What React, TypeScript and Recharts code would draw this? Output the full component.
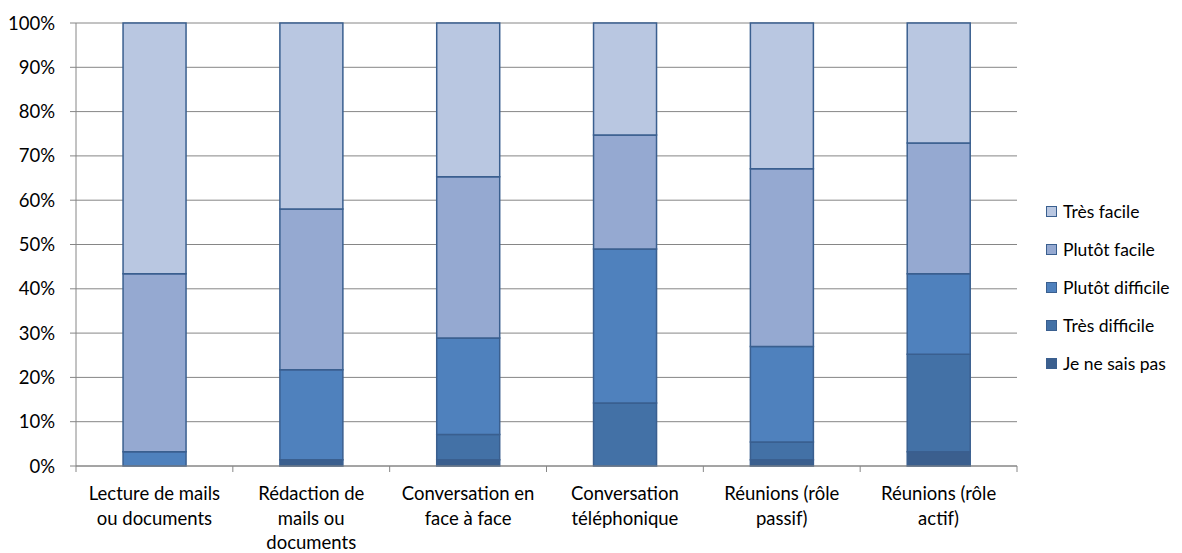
import React from 'react';
import { BarChart, Bar, XAxis, YAxis, CartesianGrid } from 'recharts';

const categories = [
  'Lecture de mails ou documents',
  'Rédaction de mails ou documents',
  'Conversation en face à face',
  'Conversation téléphonique',
  'Réunions (rôle passif)',
  'Réunions (rôle actif)',
];

// how each category label breaks on the axis
const tickLines = [
  ['Lecture de mails', 'ou documents'],
  ['Rédaction de', 'mails ou', 'documents'],
  ['Conversation en', 'face à face'],
  ['Conversation', 'téléphonique'],
  ['Réunions (rôle', 'passif)'],
  ['Réunions (rôle', 'actif)'],
];

// percent of answers, bottom of the stack first
const jeNeSaisPas = [0, 1.4, 1.4, 0, 1.4, 3.2];
const tresDifficile = [0, 0, 5.7, 14.2, 4.0, 22.0];
const plutotDifficile = [3.2, 20.3, 21.8, 34.8, 21.6, 18.2];
const plutotFacile = [40.2, 36.3, 36.4, 25.7, 40.1, 29.5];
const tresFacile = [56.6, 42.0, 34.7, 25.3, 32.9, 27.1];

const yTicks = [0, 10, 20, 30, 40, 50, 60, 70, 80, 90, 100];

const series = [
  { key: 'jnsp', name: 'Je ne sais pas', color: '#3b5f8e' },
  { key: 'td', name: 'Très difficile', color: '#4371a6' },
  { key: 'pd', name: 'Plutôt difficile', color: '#4f81bd' },
  { key: 'pf', name: 'Plutôt facile', color: '#95a9d1' },
  { key: 'tf', name: 'Très facile', color: '#b9c7e1' },
];

const data = categories.map((name, i) => ({
  name,
  jnsp: jeNeSaisPas[i],
  td: tresDifficile[i],
  pd: plutotDifficile[i],
  pf: plutotFacile[i],
  tf: tresFacile[i],
}));

const FONT = 'Lato, sans-serif';
const AXIS_GREY = '#868686';

const CategoryTick = (props: any) => {
  const { x, y, payload } = props;
  const idx = categories.indexOf(payload.value);
  const half = payload.offset || 78;
  const lines = tickLines[idx] || [payload.value];
  return (
    <g>
      <line x1={x - half} x2={x - half} y1={y} y2={y + 6} stroke={AXIS_GREY} />
      {idx === categories.length - 1 && (
        <line x1={x + half} x2={x + half} y1={y} y2={y + 6} stroke={AXIS_GREY} />
      )}
      {lines.map((l, i) => (
        <text key={i} x={x} y={y + 34 + i * 24.5} textAnchor="middle" fill="#000" fontSize={18.5} fontFamily={FONT}>
          {l}
        </text>
      ))}
    </g>
  );
};

export default function App() {
  return (
    <div style={{ position: 'relative', width: 1166, height: 545, fontFamily: FONT }}>
      <BarChart
        width={1166}
        height={545}
        data={data}
        margin={{ top: 15, right: 157, bottom: 0, left: 8 }}
        barCategoryGap="30%"
      >
        <CartesianGrid vertical={false} stroke={AXIS_GREY} />
        <XAxis
          dataKey="name"
          height={87}
          interval={0}
          tickLine={false}
          tickSize={0}
          tickMargin={0}
          axisLine={{ stroke: AXIS_GREY }}
          tick={<CategoryTick />}
        />
        <YAxis
          width={60}
          domain={[0, 100]}
          ticks={yTicks}
          interval={0}
          tickFormatter={(v: number) => `${v}%`}
          axisLine={{ stroke: AXIS_GREY }}
          tickLine={{ stroke: AXIS_GREY }}
          tickSize={6}
          tickMargin={15}
          tick={{ fill: '#000', fontSize: 18.5, fontFamily: FONT }}
        />
        {series.map((s) => (
          <Bar
            key={s.key}
            dataKey={s.key}
            name={s.name}
            stackId="a"
            fill={s.color}
            stroke="#3a5f8f"
            strokeWidth={1.5}
            isAnimationActive={false}
          />
        ))}
      </BarChart>
      <div style={{ position: 'absolute', left: 1038, top: 184, fontSize: 17.5, color: '#000' }}>
        {[...series].reverse().map((s) => (
          <div key={s.key} style={{ display: 'flex', alignItems: 'center', height: 38 }}>
            <span
              style={{
                display: 'inline-block',
                width: 9,
                height: 9,
                background: s.color,
                border: '1px solid #3a5f8f',
                marginRight: 6,
              }}
            />
            <span style={{ whiteSpace: 'nowrap' }}>{s.name}</span>
          </div>
        ))}
      </div>
    </div>
  );
}
